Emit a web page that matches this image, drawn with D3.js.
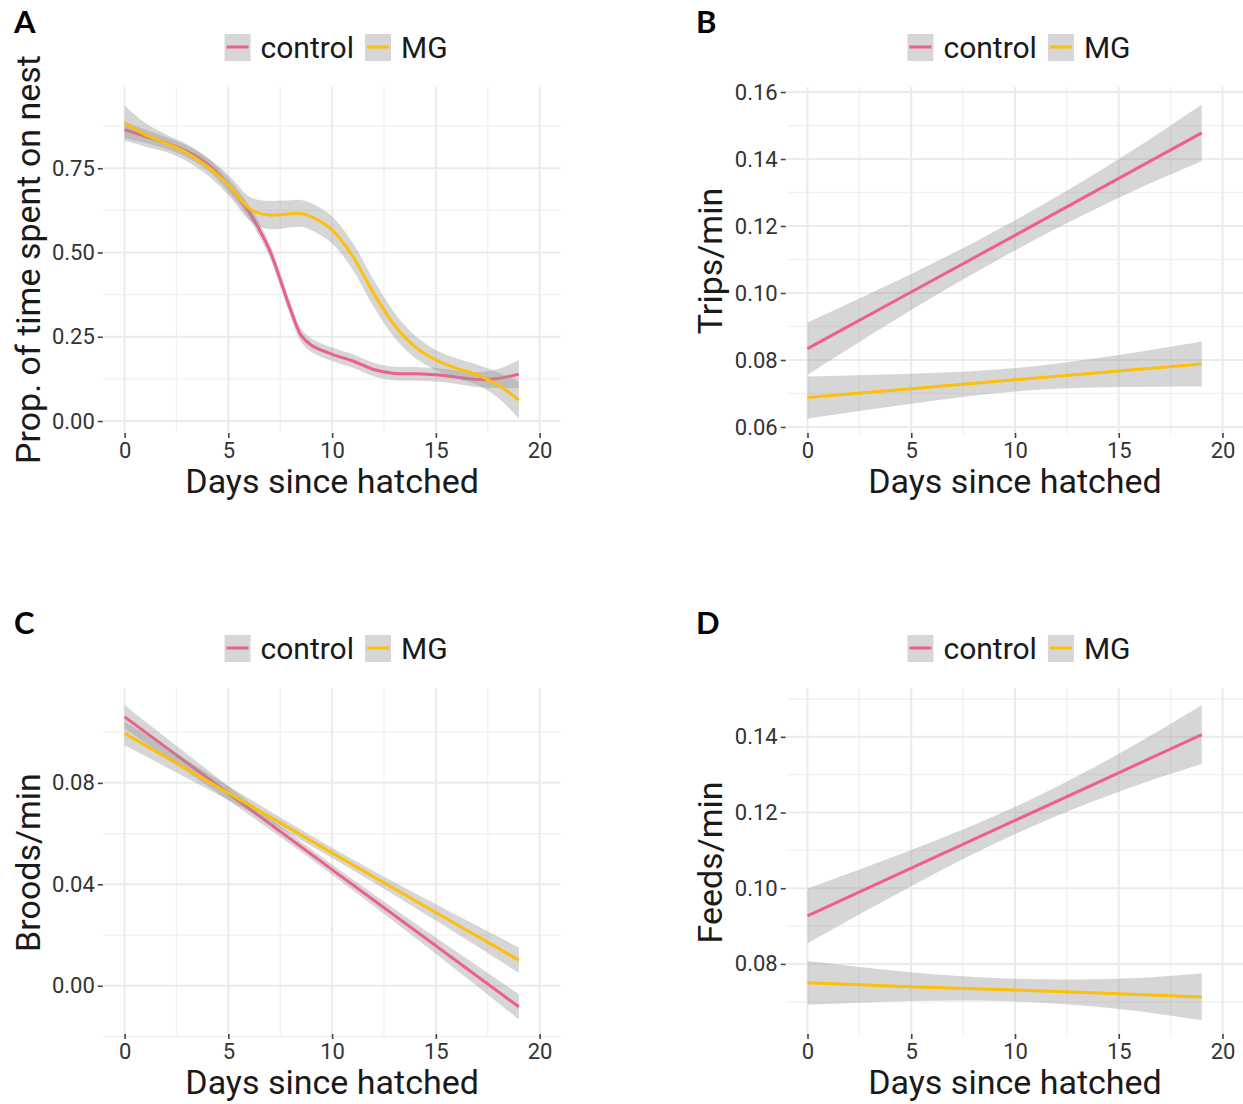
<!DOCTYPE html>
<html>
<head>
<meta charset="utf-8">
<script src="https://cdn.jsdelivr.net/npm/d3@7"></script>
<style>
  html, body { margin: 0; padding: 0; background: #fff; }
  svg { display: block; font-family: Roboto, 'Noto Sans', sans-serif; }
</style>
</head>
<body>
<div id="chart"></div>
<script>
'use strict';

// ---- data ----
var groups = ['control', 'MG'];
var xTicks = [0, 5, 10, 15, 20];
var xMinor = [2.5, 7.5, 12.5, 17.5];

// A: loess smooths, proportion of time on nest
var aDays = [0, 1, 2, 3, 4, 5, 6, 6.5, 7, 7.5, 8, 8.5, 9, 10, 11, 12, 13, 14, 15, 16, 17, 18, 19];
var aControlFit = [0.864, 0.845, 0.825, 0.800, 0.762, 0.700, 0.620, 0.567, 0.505, 0.420, 0.330, 0.255, 0.225, 0.198, 0.178, 0.153, 0.141, 0.140, 0.137, 0.130, 0.123, 0.126, 0.139];
var aControlLo = [0.839, 0.825, 0.807, 0.782, 0.744, 0.680, 0.600, 0.547, 0.485, 0.400, 0.310, 0.235, 0.205, 0.178, 0.158, 0.133, 0.121, 0.120, 0.117, 0.110, 0.101, 0.098, 0.097];
var aControlHi = [0.889, 0.865, 0.843, 0.818, 0.780, 0.720, 0.640, 0.587, 0.525, 0.440, 0.350, 0.275, 0.245, 0.218, 0.198, 0.173, 0.161, 0.160, 0.157, 0.150, 0.145, 0.154, 0.181];
var aMgFit = [0.884, 0.849, 0.824, 0.796, 0.755, 0.700, 0.631, 0.616, 0.611, 0.612, 0.615, 0.616, 0.606, 0.567, 0.488, 0.379, 0.285, 0.220, 0.181, 0.156, 0.137, 0.107, 0.062];
var aMgLo = [0.832, 0.814, 0.798, 0.771, 0.729, 0.670, 0.596, 0.576, 0.569, 0.570, 0.575, 0.576, 0.566, 0.527, 0.448, 0.339, 0.248, 0.187, 0.151, 0.126, 0.107, 0.069, 0.007];
var aMgHi = [0.936, 0.884, 0.850, 0.821, 0.781, 0.730, 0.666, 0.656, 0.653, 0.654, 0.655, 0.656, 0.646, 0.607, 0.528, 0.419, 0.322, 0.253, 0.211, 0.186, 0.167, 0.145, 0.117];
var aYTicks = [0, 0.25, 0.5, 0.75];
var aYMinor = [0.125, 0.375, 0.625, 0.875];

// B-D: linear fits, sampled along the day axis
var linDays = [0, 5, 10, 15, 19];

var bControlFit = [0.0834, 0.1003, 0.1172, 0.1342, 0.1478];
var bControlLo = [0.0756, 0.0949, 0.1127, 0.1284, 0.1393];
var bControlHi = [0.0912, 0.1057, 0.1217, 0.1400, 0.1563];
var bMgFit = [0.0688, 0.0714, 0.0741, 0.0767, 0.0788];
var bMgLo = [0.0625, 0.0669, 0.0706, 0.0719, 0.0721];
var bMgHi = [0.0751, 0.0759, 0.0776, 0.0815, 0.0855];
var bYTicks = [0.06, 0.08, 0.10, 0.12, 0.14, 0.16];
var bYMinor = [0.07, 0.09, 0.11, 0.13, 0.15];

var cControlFit = [0.1060, 0.0759, 0.0458, 0.0158, -0.0083];
var cControlLo = [0.1014, 0.0731, 0.0438, 0.0126, -0.0133];
var cControlHi = [0.1106, 0.0787, 0.0478, 0.0190, -0.0033];
var cMgFit = [0.0995, 0.0760, 0.0524, 0.0289, 0.0101];
var cMgLo = [0.0948, 0.0732, 0.0504, 0.0257, 0.0051];
var cMgHi = [0.1042, 0.0788, 0.0544, 0.0321, 0.0151];
var cYTicks = [0, 0.04, 0.08];
var cYMinor = [-0.02, 0.02, 0.06, 0.10];

var dControlFit = [0.0927, 0.1053, 0.1179, 0.1305, 0.1406];
var dControlLo = [0.0855, 0.1005, 0.1143, 0.1255, 0.1328];
var dControlHi = [0.0999, 0.1101, 0.1215, 0.1355, 0.1484];
var dMgFit = [0.0750, 0.0740, 0.0731, 0.0721, 0.0713];
var dMgLo = [0.0692, 0.0702, 0.0701, 0.0681, 0.0651];
var dMgHi = [0.0808, 0.0778, 0.0761, 0.0761, 0.0775];
var dYTicks = [0.08, 0.10, 0.12, 0.14];
var dYMinor = [0.07, 0.09, 0.11, 0.13, 0.15];

// ---- helpers ----
function zipSeries( xs, fit, lo, hi ) {
  return xs.map( function( x, i ) {
    return { x: x, fit: fit[i], lo: lo[i], hi: hi[i] };
  } );
}

var colors = { control: '#ee5f8b', MG: '#fcbf0a' };

var panels = [
  { letter: 'A', ox: 0, oy: 0, x0: 124.6, top: 87, bottom: 432,
    yDomain: [-0.0326, 0.991], yTicks: aYTicks, yMinor: aYMinor,
    ylabel: 'Prop. of time spent on nest', smooth: true,
    series: [ zipSeries( aDays, aControlFit, aControlLo, aControlHi ),
              zipSeries( aDays, aMgFit, aMgLo, aMgHi ) ] },
  { letter: 'B', ox: 682, oy: 0, x0: 807.5, top: 87, bottom: 435,
    yDomain: [0.0576, 0.1615], yTicks: bYTicks, yMinor: bYMinor,
    ylabel: 'Trips/min', smooth: false,
    series: [ zipSeries( linDays, bControlFit, bControlLo, bControlHi ),
              zipSeries( linDays, bMgFit, bMgLo, bMgHi ) ] },
  { letter: 'C', ox: 0, oy: 601, x0: 124.6, top: 688, bottom: 1037,
    yDomain: [-0.0202, 0.1174], yTicks: cYTicks, yMinor: cYMinor,
    ylabel: 'Broods/min', smooth: false,
    series: [ zipSeries( linDays, cControlFit, cControlLo, cControlHi ),
              zipSeries( linDays, cMgFit, cMgLo, cMgHi ) ] },
  { letter: 'D', ox: 682, oy: 601, x0: 807.5, top: 688, bottom: 1037,
    yDomain: [0.0607, 0.1529], yTicks: dYTicks, yMinor: dYMinor,
    ylabel: 'Feeds/min', smooth: false,
    series: [ zipSeries( linDays, dControlFit, dControlLo, dControlHi ),
              zipSeries( linDays, dMgFit, dMgLo, dMgHi ) ] }
];

var svg = d3.select( '#chart' )
  .append( 'svg' )
    .attr( 'width', 1243 )
    .attr( 'height', 1104 );

var dayWidth = 20.75;

panels.forEach( function( p ) {
  var left = p.x0 - dayWidth,
      right = p.x0 + 21 * dayWidth;

  var x = d3.scaleLinear().domain( [-1, 21] ).range( [left, right] );
  var y = d3.scaleLinear().domain( p.yDomain ).range( [p.bottom, p.top] );

  var g = svg.append( 'g' );

  // grid, minor first
  g.selectAll( '.hminor' ).data( p.yMinor ).enter()
    .append( 'line' )
      .attr( 'x1', left ).attr( 'x2', right )
      .attr( 'y1', y ).attr( 'y2', y )
      .style( 'stroke', '#f1f1f1' ).style( 'stroke-width', 1.3 );
  g.selectAll( '.vminor' ).data( xMinor ).enter()
    .append( 'line' )
      .attr( 'x1', x ).attr( 'x2', x )
      .attr( 'y1', p.top ).attr( 'y2', p.bottom )
      .style( 'stroke', '#f1f1f1' ).style( 'stroke-width', 1.3 );
  g.selectAll( '.hmajor' ).data( p.yTicks ).enter()
    .append( 'line' )
      .attr( 'x1', left ).attr( 'x2', right )
      .attr( 'y1', y ).attr( 'y2', y )
      .style( 'stroke', '#ebebeb' ).style( 'stroke-width', 2 );
  g.selectAll( '.vmajor' ).data( xTicks ).enter()
    .append( 'line' )
      .attr( 'x1', x ).attr( 'x2', x )
      .attr( 'y1', p.top ).attr( 'y2', p.bottom )
      .style( 'stroke', '#ebebeb' ).style( 'stroke-width', 2 );

  var curve = p.smooth ? d3.curveCatmullRom.alpha( 0.5 ) : d3.curveNatural;

  var band = d3.area()
    .x( function( d ) { return x( d.x ); } )
    .y0( function( d ) { return y( d.lo ); } )
    .y1( function( d ) { return y( d.hi ); } )
    .curve( curve );

  var line = d3.line()
    .x( function( d ) { return x( d.x ); } )
    .y( function( d ) { return y( d.fit ); } )
    .curve( p.smooth ? curve : d3.curveLinear );

  // ribbon then line per group, like geom_smooth
  p.series.forEach( function( s, i ) {
    g.append( 'path' )
      .attr( 'd', band( s ) )
      .style( 'fill', '#999999' )
      .style( 'fill-opacity', 0.4 );
    g.append( 'path' )
      .attr( 'd', line( s ) )
      .style( 'fill', 'none' )
      .style( 'stroke', colors[groups[i]] )
      .style( 'stroke-width', 3 );
  } );

  // axes
  var yAxis = d3.axisLeft( y )
    .tickValues( p.yTicks )
    .tickFormat( d3.format( '.2f' ) )
    .tickSize( 5 )
    .tickPadding( 3 );
  var ya = g.append( 'g' )
    .attr( 'transform', 'translate(' + ( left - 1 ) + ',0)' )
    .call( yAxis );

  var xAxis = d3.axisBottom( x )
    .tickValues( xTicks )
    .tickSize( 5 )
    .tickPadding( 4 );
  var xa = g.append( 'g' )
    .attr( 'transform', 'translate(0,' + ( p.oy + 433 ) + ')' )
    .call( xAxis );

  [ya, xa].forEach( function( a ) {
    a.select( '.domain' ).remove();
    a.selectAll( '.tick line' ).style( 'stroke', '#444' ).style( 'stroke-width', 1.6 );
    a.selectAll( '.tick text' )
      .style( 'font-family', 'Roboto, sans-serif' )
      .style( 'font-size', '22px' )
      .style( 'fill', '#333' );
  } );

  // titles
  var cx = ( left + right ) / 2,
      cy = ( p.top + p.bottom ) / 2;

  g.append( 'text' )
    .attr( 'x', cx )
    .attr( 'y', p.oy + 493 )
    .style( 'text-anchor', 'middle' )
    .style( 'font-size', '34px' )
    .style( 'fill', '#1a1a1a' )
    .text( 'Days since hatched' );

  g.append( 'text' )
    .attr( 'transform', 'translate(' + ( p.ox + 40 ) + ',' + cy + ') rotate(-90)' )
    .style( 'text-anchor', 'middle' )
    .style( 'font-size', '34px' )
    .style( 'fill', '#1a1a1a' )
    .text( p.ylabel );

  g.append( 'text' )
    .attr( 'x', p.ox + 14 )
    .attr( 'y', p.oy + 33 )
    .style( 'font-family', 'Lato, "Open Sans", sans-serif' )
    .style( 'font-weight', 'bold' )
    .style( 'font-size', '31px' )
    .style( 'fill', '#000' )
    .text( p.letter );

  // legend, centred over the panel
  var legend = g.append( 'g' );
  var ly = p.oy + 47,
      keySize = 26,
      cursor = 0;
  groups.forEach( function( name ) {
    var item = legend.append( 'g' );
    item.append( 'rect' )
      .attr( 'x', 0 ).attr( 'y', -keySize / 2 )
      .attr( 'width', keySize ).attr( 'height', keySize + 1 )
      .style( 'fill', '#d6d6d6' );
    item.append( 'line' )
      .attr( 'x1', 2 ).attr( 'x2', keySize - 2 )
      .attr( 'y1', 0 ).attr( 'y2', 0 )
      .style( 'stroke', colors[name] )
      .style( 'stroke-width', 3 );
    var t = item.append( 'text' )
      .attr( 'x', keySize + 10 )
      .attr( 'y', 0 )
      .attr( 'dy', '0.35em' )
      .style( 'font-size', '30px' )
      .style( 'fill', '#1a1a1a' )
      .text( name );
    var w = keySize + 10 + t.node().getComputedTextLength();
    item.attr( 'transform', 'translate(' + cursor + ',0)' );
    cursor += w + 11;
  } );
  var total = cursor - 11;
  legend.attr( 'transform', 'translate(' + ( cx - total / 2 + 4 ) + ',' + ly + ')' );
} );
</script>
</body>
</html>
